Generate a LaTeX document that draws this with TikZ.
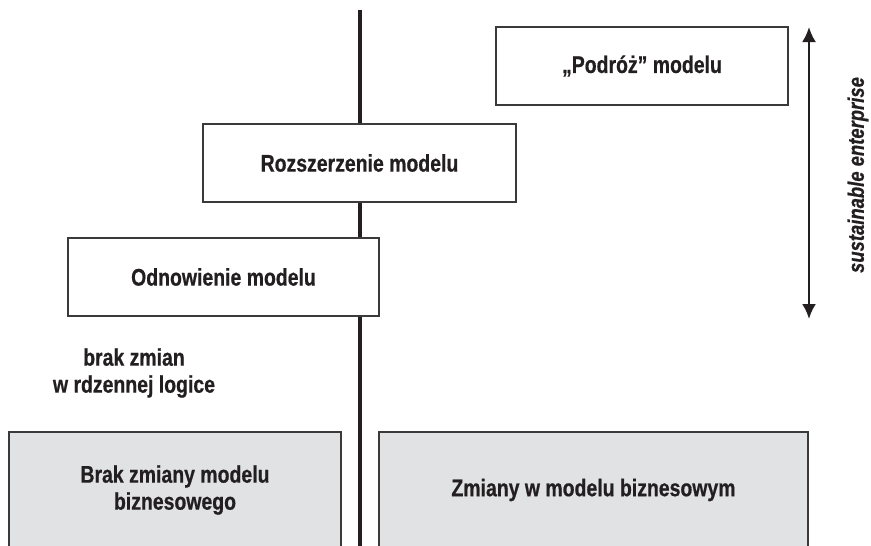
\documentclass[tikz,border=0pt]{standalone}
\usepackage{fontspec}
\setmainfont{Liberation Sans}[FakeStretch=0.81,
  BoldFeatures={FakeStretch=0.81, FakeBold=0.6},
  BoldItalicFeatures={FakeStretch=0.82, FakeBold=0.6}]
\usetikzlibrary{arrows.meta, positioning}
\definecolor{modelGray}{HTML}{E1E2E4}
\definecolor{frameDark}{HTML}{3A3A3A}
\definecolor{textDark}{HTML}{231F20}

\begin{document}
\begin{tikzpicture}[x=1pt, y=-1pt,
        stage/.style={rectangle, minimum height=78pt,
          font=\bfseries\fontsize{24}{27}\selectfont, align=center, text=textDark,
          fill=white, draw=frameDark, line width=1.2pt},
        base/.style={stage, fill=modelGray, minimum height=116pt},
        note/.style={font=\bfseries\fontsize{24}{27}\selectfont, align=center, text=textDark}
      ]
        \useasboundingbox (0,0) rectangle (871,546);
        % dividing line behind the boxes
        \coordinate (spinetop) at (360,10);
        \coordinate (spinebot) at (360,548);
        \draw[line width=3.5pt, textDark] (spinetop) -- (spinebot);

        \node[stage, minimum width=292pt] (podroz) at (642,66) {„Podróż” modelu};
        \node[stage, minimum width=313pt] (rozsz)  at (359.5,163) {Rozszerzenie modelu};
        \node[stage, minimum width=311pt] (odnow)  at (223.5,277) {Odnowienie modelu};
        \node[note] (logika) at (134,373) {brak zmian\\w rdzennej logice};

        \node[base, minimum width=332pt] (brak)   at (175,490) {Brak zmiany modelu\\biznesowego};
        \node[base, minimum width=429pt] (zmiany) at (593.5,490) {Zmiany w modelu biznesowym};

        % sustainable enterprise range
        \coordinate (arrtop) at (809,27);
        \coordinate (arrbot) at (809,319);
        \draw[line width=2.4pt, textDark, {Latex[length=15pt,width=14pt]}-{Latex[length=15pt,width=14pt]}]
          (arrbot) -- (arrtop);
        \node[rotate=90, text=textDark, font=\bfseries\itshape\fontsize{22.5}{26}\selectfont]
          (sustain) at (858,175) {sustainable enterprise};
      \end{tikzpicture}
\end{document}
